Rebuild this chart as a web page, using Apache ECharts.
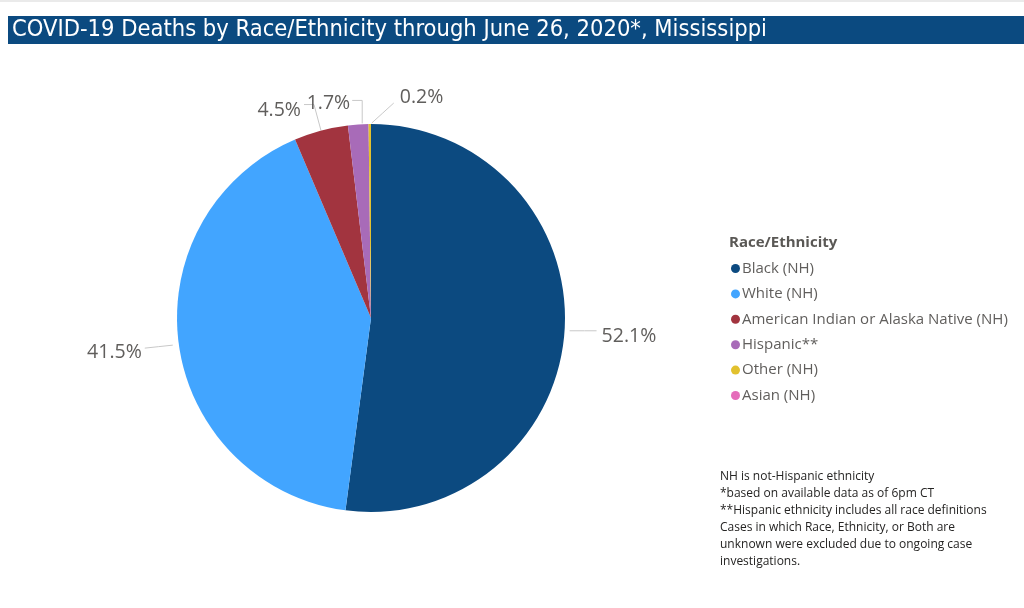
<!DOCTYPE html>
<html><head><meta charset="utf-8">
<script src="https://cdn.jsdelivr.net/npm/echarts@6/dist/echarts.min.js"></script>
<style>html,body{margin:0;padding:0;background:#fff}#c{width:1024px;height:608px}</style>
</head><body><div id="c"></div>
<script>
const categories = ['Black (NH)','White (NH)','American Indian or Alaska Native (NH)','Hispanic**','Other (NH)','Asian (NH)'];
const values = [52.1, 41.5, 4.5, 1.7, 0.2, 0];
const colors = ['#0c4a80','#42a5ff','#a2343f','#a86bb8','#e2c12e','#e56cba'];
const titleText = 'COVID-19 Deaths by Race/Ethnicity through June 26, 2020*, Mississippi';
const notes = ['NH is not-Hispanic ethnicity','*based on available data as of 6pm CT','**Hispanic ethnicity includes all race definitions','Cases in which Race, Ethnicity, or Both are','unknown were excluded due to ongoing case','investigations.'];

const data = categories.map((n,i)=>{
  const d = {name:n, value:values[i], itemStyle:{color:colors[i]}};
  if (values[i] === 0) { d.label = {show:false}; d.labelLine = {show:false}; }
  return d;
});
// label offsets relative to each slice's outer edge point
function placeLabel(p){
  const s = p.labelLinePoints && p.labelLinePoints[0];
  if (!s) return {};
  const x = s[0], y = s[1];
  switch (p.dataIndex) {
    case 0: return {x:x+37, y:y+6, align:'left', verticalAlign:'middle',
      labelLinePoints:[[x+5,y],[x+20,y],[x+32,y]]};
    case 1: return {x:x-37, y:y+8, align:'right', verticalAlign:'middle',
      labelLinePoints:[[x-6,y+1],[x-20,y+2.5],[x-34,y+4]]};
    case 2: return {x:x-20, y:y-20, align:'right', verticalAlign:'middle',
      labelLinePoints:[[x,y],[x-7,y-26],[x-17,y-26]]};
    case 3: return {x:x-8, y:y-21, align:'right', verticalAlign:'middle',
      labelLinePoints:[[x+4,y-1],[x+4,y-24],[x-6,y-24]]};
    case 4: return {x:x+30, y:y-27, align:'left', verticalAlign:'middle',
      labelLinePoints:[[x+2,y-1],[x+13,y-11],[x+24,y-21]]};
  }
  return {};
}
const chart = echarts.init(document.getElementById('c'));
chart.setOption({
  animation:false,
  graphic:[
    {type:'rect', shape:{x:0,y:0,width:1024,height:2}, style:{fill:'#eaeaea'}},
    {type:'rect', shape:{x:8,y:16,width:1016,height:28}, style:{fill:'#0b4a80'}},
    {type:'text', left:12, top:18, style:{text:titleText, fill:'#fff', font:'23.5px "DejaVu Sans Condensed", "Liberation Sans Narrow", sans-serif'}},
    {type:'text', left:729, top:235, style:{text:'Race/Ethnicity', fill:'#5a5855', font:'bold 15px "Open Sans", "Noto Sans", sans-serif'}},
    {type:'text', left:720, top:468, style:{text:notes.join('\n'), fill:'#252423', lineHeight:17, font:'12px "Open Sans", "Noto Sans", sans-serif'}}
  ],
  legend:{
    orient:'vertical', left:726, top:256, icon:'circle', itemWidth:9, itemHeight:9, itemGap:10.4,
    textStyle:{color:'#605e5c', fontSize:15, fontFamily:'"Open Sans", "Noto Sans", sans-serif', padding:[0,0,0,-3]},
    data:categories
  },
  series:[{
    type:'pie', center:[371,318], radius:194, startAngle:90, clockwise:true,
    data:data,
    label:{show:true, formatter:'{d}%', color:'#605e5c', fontSize:19.5, fontFamily:'"Open Sans", "Noto Sans", sans-serif'},
    labelLine:{show:true, length:8, length2:26, lineStyle:{color:'#c8c8c8'}},
    labelLayout:placeLabel,
    itemStyle:{borderColor:'#fff', borderWidth:0}
  }]
});
</script></body></html>
